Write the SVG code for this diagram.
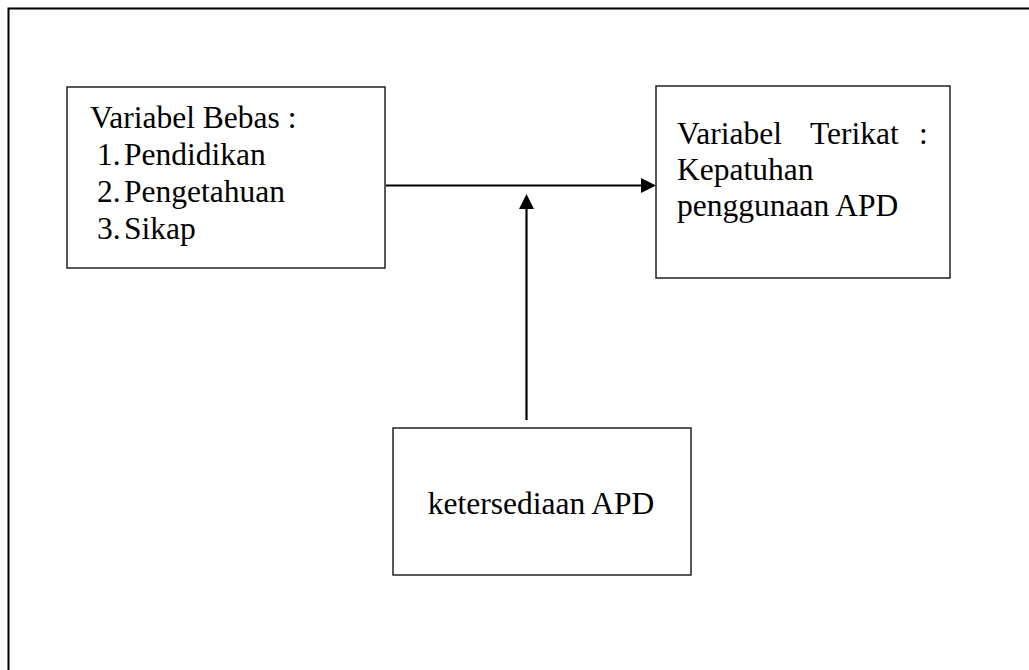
<svg xmlns="http://www.w3.org/2000/svg" width="1029" height="670" viewBox="0 0 1029 670">
<style>
.box{fill:#fff;stroke:#222;stroke-width:1.5}
.t{font-family:'Liberation Serif','DejaVu Serif',serif;font-size:31.5px;fill:#000}
.ln{stroke:#000;stroke-width:2.2;fill:none}
.head{fill:#000}
</style>
<rect x="0" y="0" width="1029" height="670" fill="#fff"/>
<path d="M8.5,670 V8.5 H1029" fill="none" stroke="#000" stroke-width="2"/>
<g id="bebas">
<rect class="box" x="67" y="87" width="318" height="181"/>
<text class="t" x="90" y="128">Variabel Bebas :</text>
<text class="t" x="97" y="165">1.</text><text class="t" x="124" y="165">Pendidikan</text>
<text class="t" x="97" y="202">2.</text><text class="t" x="124" y="202">Pengetahuan</text>
<text class="t" x="97" y="239">3.</text><text class="t" x="124" y="239">Sikap</text>
</g>
<g id="terikat">
<rect class="box" x="656" y="86" width="294" height="192"/>
<text class="t" x="677" y="144">Variabel</text>
<text class="t" x="810" y="144">Terikat</text>
<text class="t" x="919" y="144">:</text>
<text class="t" x="677" y="180">Kepatuhan</text>
<text class="t" x="677" y="216">penggunaan APD</text>
</g>
<g id="ketersediaan">
<rect class="box" x="393" y="428" width="298" height="147"/>
<text class="t" x="541" y="514" text-anchor="middle">ketersediaan APD</text>
</g>
<g id="connectors">
<line class="ln" x1="386" y1="185.5" x2="644" y2="185.5"/>
<polygon class="head" points="656,185.5 641,178 641,193"/>
<line class="ln" x1="526.5" y1="420" x2="526.5" y2="207"/>
<polygon class="head" points="526.5,194 519,209 534,209"/>
</g>
</svg>
